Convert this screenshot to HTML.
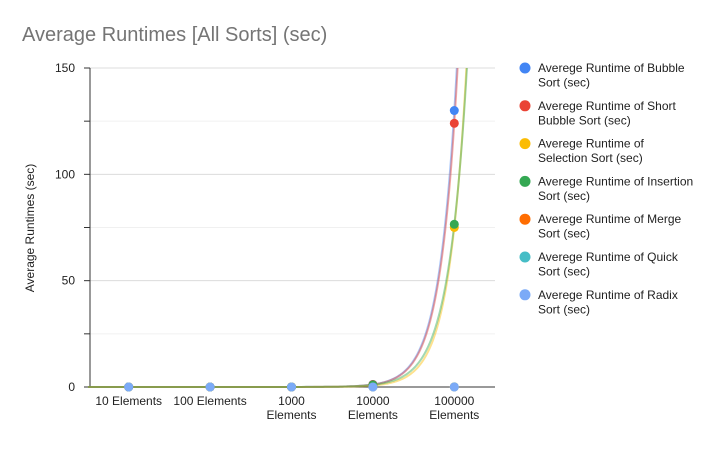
<!DOCTYPE html>
<html><head><meta charset="utf-8"><style>
body{margin:0;background:#fff;font-family:"Liberation Sans",Arial,sans-serif}
svg text{font-family:"Liberation Sans",Arial,sans-serif}
</style></head><body>
<svg id="chart" width="720" height="444" xmlns="http://www.w3.org/2000/svg">
<rect width="720" height="444" fill="#fff"/>
<text x="22" y="41" font-size="20" fill="#757575">Average Runtimes [All Sorts] (sec)</text>
<text transform="translate(34,228) rotate(-90)" text-anchor="middle" font-size="12" fill="#222">Average Runtimes (sec)</text>
<defs><clipPath id="plotclip"><rect x="88" y="68" width="407" height="320"/></clipPath></defs>
<g id="grid"></g><g id="axes"></g><g id="trends" clip-path="url(#plotclip)"></g><g id="points"></g><g id="legend"></g>
</svg>
<script>
const categories=[["10 Elements"],["100 Elements"],["1000","Elements"],["10000","Elements"],["100000","Elements"]];
const seriesNames=["Averege Runtime of Bubble Sort (sec)","Averege Runtime of Short Bubble Sort (sec)","Averege Runtime of Selection Sort (sec)","Averege Runtime of Insertion Sort (sec)","Averege Runtime of Merge Sort (sec)","Averege Runtime of Quick Sort (sec)","Averege Runtime of Radix Sort (sec)"];
const legendLines=[["Averege Runtime of Bubble","Sort (sec)"],["Averege Runtime of Short","Bubble Sort (sec)"],["Averege Runtime of","Selection Sort (sec)"],["Averege Runtime of Insertion","Sort (sec)"],["Averege Runtime of Merge","Sort (sec)"],["Averege Runtime of Quick","Sort (sec)"],["Averege Runtime of Radix","Sort (sec)"]];
const bubble=[0,0,0.01,1.2,130];
const shortBubble=[0,0,0.01,1.15,124];
const selection=[0,0,0.01,0.7,75];
const insertion=[0,0,0.01,1.0,76.5];
const merge=[0,0,0,0.02,0.05];
const quick=[0,0,0,0.01,0.03];
const radix=[0,0,0,0.01,0.02];
const yTicks=[0,50,100,150];
const yMinor=[25,75,125];
const colors=["#4285f4","#ea4335","#fbbc04","#34a853","#ff6d01","#46bdc6","#7baaf7"];
const series=[bubble,shortBubble,selection,insertion,merge,quick,radix];
const trendIdx=[0,1,2,3];
const NS="http://www.w3.org/2000/svg";
const X0=88,X1=495,Y0=387,Y1=68,YMAX=150;
const step=(X1-X0)/categories.length;
function xs(i){return X0+step*(i+0.5);}
function ys(v){return Y0-(v/YMAX)*(Y0-Y1);}
function mk(tag,attrs,parent){const e=document.createElementNS(NS,tag);for(const k in attrs)e.setAttribute(k,attrs[k]);document.getElementById(parent).appendChild(e);return e;}
[...yTicks,...yMinor].forEach(v=>{if(v===0)return;const l=mk("line",{x1:X0,x2:X1,y1:ys(v),y2:ys(v),stroke:yMinor.includes(v)?"#f0f0f0":"#dcdcdc"},"grid");

});
const ax=mk("line",{x1:90,x2:90,y1:Y1,y2:Y0,stroke:"#333"},"axes");


const bx=mk("line",{x1:X0,x2:X1,y1:Y0,y2:Y0,stroke:"#333"},"axes");


[...yTicks,...yMinor].forEach(v=>{const t=mk("line",{x1:84,x2:90,y1:ys(v),y2:ys(v),stroke:"#333"},"axes");

});
yTicks.forEach(v=>{const t=mk("text",{x:75,y:ys(v)+4,"text-anchor":"end","font-size":12,fill:"#222"},"axes");t.textContent=v;

});
categories.forEach((c,i)=>{c.forEach((ln,j)=>{const t=mk("text",{x:xs(i),y:405+j*14,"text-anchor":"middle","font-size":12,fill:"#222"},"axes");t.textContent=ln;

});});
trendIdx.forEach(s=>{const d=series[s];const n=d.length;const r=d[n-1]/d[n-2];let pts=[];
for(let px=X0;px<=X1;px+=1){const fi=(px-X0)/step-0.5;const v=d[n-1]*Math.pow(r,fi-(n-1));pts.push(px+","+Math.max(ys(v),-2000).toFixed(1));}
const p=mk("polyline",{points:pts.join(" "),fill:"none",stroke:colors[s],"stroke-width":2,"stroke-opacity":0.45},"trends");

});
series.forEach((d,s)=>{d.forEach((v,i)=>{const c=mk("circle",{cx:xs(i),cy:ys(v),r:4.5,fill:colors[s]},"points");

});});
legendLines.forEach((ls,k)=>{const y=68+k*37.8;const c=mk("circle",{cx:525,cy:y,r:5.5,fill:colors[k]},"legend");


ls.forEach((ln,j)=>{const t=mk("text",{x:538,y:y+4+j*14.5,"font-size":12,fill:"#222"},"legend");t.textContent=ln;

});});
</script>
</body></html>
